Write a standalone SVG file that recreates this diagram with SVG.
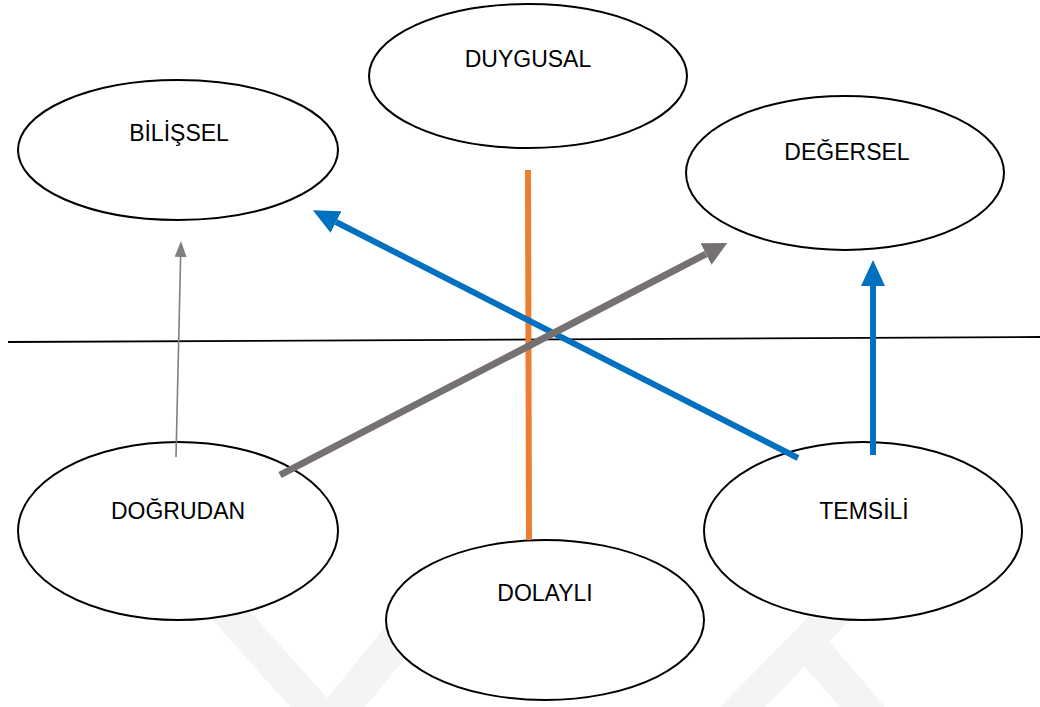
<svg xmlns="http://www.w3.org/2000/svg" width="1040" height="707" viewBox="0 0 1040 707">
<style>
.node ellipse{fill:#fff;stroke:#000;stroke-width:2}
.node text{font-family:"Liberation Sans",Arial,sans-serif;font-size:23px;fill:#000;text-anchor:middle}
.wm{fill:#f4f4f4}
</style>
<defs>
<marker id="ahBlue" markerUnits="userSpaceOnUse" markerWidth="26" markerHeight="24" refX="0" refY="12" orient="auto" viewBox="0 0 26 24"><path d="M0,0 L26,12 L0,24 z" fill="#0070C0"/></marker>
<marker id="ahGray" markerUnits="userSpaceOnUse" markerWidth="24" markerHeight="24" refX="0" refY="12" orient="auto" viewBox="0 0 24 24"><path d="M0,0 L24,12 L0,24 z" fill="#767171"/></marker>
<marker id="ahThin" markerUnits="userSpaceOnUse" markerWidth="16" markerHeight="12" refX="0" refY="6" orient="auto" viewBox="0 0 16 12"><path d="M0,0 L16,6 L0,12 z" fill="#7f7f7f"/></marker>
</defs>
<rect width="1040" height="707" fill="#fff"/>
<g id="watermark">
<polygon class="wm" points="195,600 240,600 335,707 290,707"/>
<polygon class="wm" points="320,707 365,707 420,640 395,615"/>
<polygon class="wm" points="720,707 765,707 860,610 835,590"/>
<polygon class="wm" points="790,650 815,625 885,707 840,707"/>
</g>
<g id="n-duygusal" class="node"><ellipse cx="528" cy="76" rx="159" ry="72"/><text x="528" y="67">DUYGUSAL</text></g>
<g id="n-bilissel" class="node"><ellipse cx="178" cy="150" rx="160" ry="70"/><text x="179" y="141">BİLİŞSEL</text></g>
<g id="n-degersel" class="node"><ellipse cx="845" cy="173" rx="159" ry="77"/><text x="847" y="160">DEĞERSEL</text></g>
<g id="n-dogrudan" class="node"><ellipse cx="178" cy="531" rx="160" ry="89"/><text x="178" y="519">DOĞRUDAN</text></g>
<g id="n-dolayli" class="node"><ellipse cx="545" cy="620" rx="159" ry="80"/><text x="545" y="601">DOLAYLI</text></g>
<g id="n-temsili" class="node"><ellipse cx="863" cy="531" rx="159" ry="89"/><text x="864" y="519">TEMSİLİ</text></g>
<g id="connectors">
<line x1="8" y1="342" x2="1040" y2="337" stroke="#000" stroke-width="1.8"/>
<line x1="528" y1="170" x2="529" y2="540" stroke="#ED7D31" stroke-width="6"/>
<line x1="798" y1="458" x2="336" y2="222" stroke="#0070C0" stroke-width="6" marker-end="url(#ahBlue)"/>
<line x1="280" y1="475" x2="706" y2="254" stroke="#767171" stroke-width="7" marker-end="url(#ahGray)"/>
<line x1="873" y1="455" x2="873" y2="286" stroke="#0070C0" stroke-width="6" marker-end="url(#ahBlue)"/>
<line x1="176" y1="457" x2="180.6" y2="257" stroke="#7f7f7f" stroke-width="1.6" marker-end="url(#ahThin)"/>
</g>
</svg>
